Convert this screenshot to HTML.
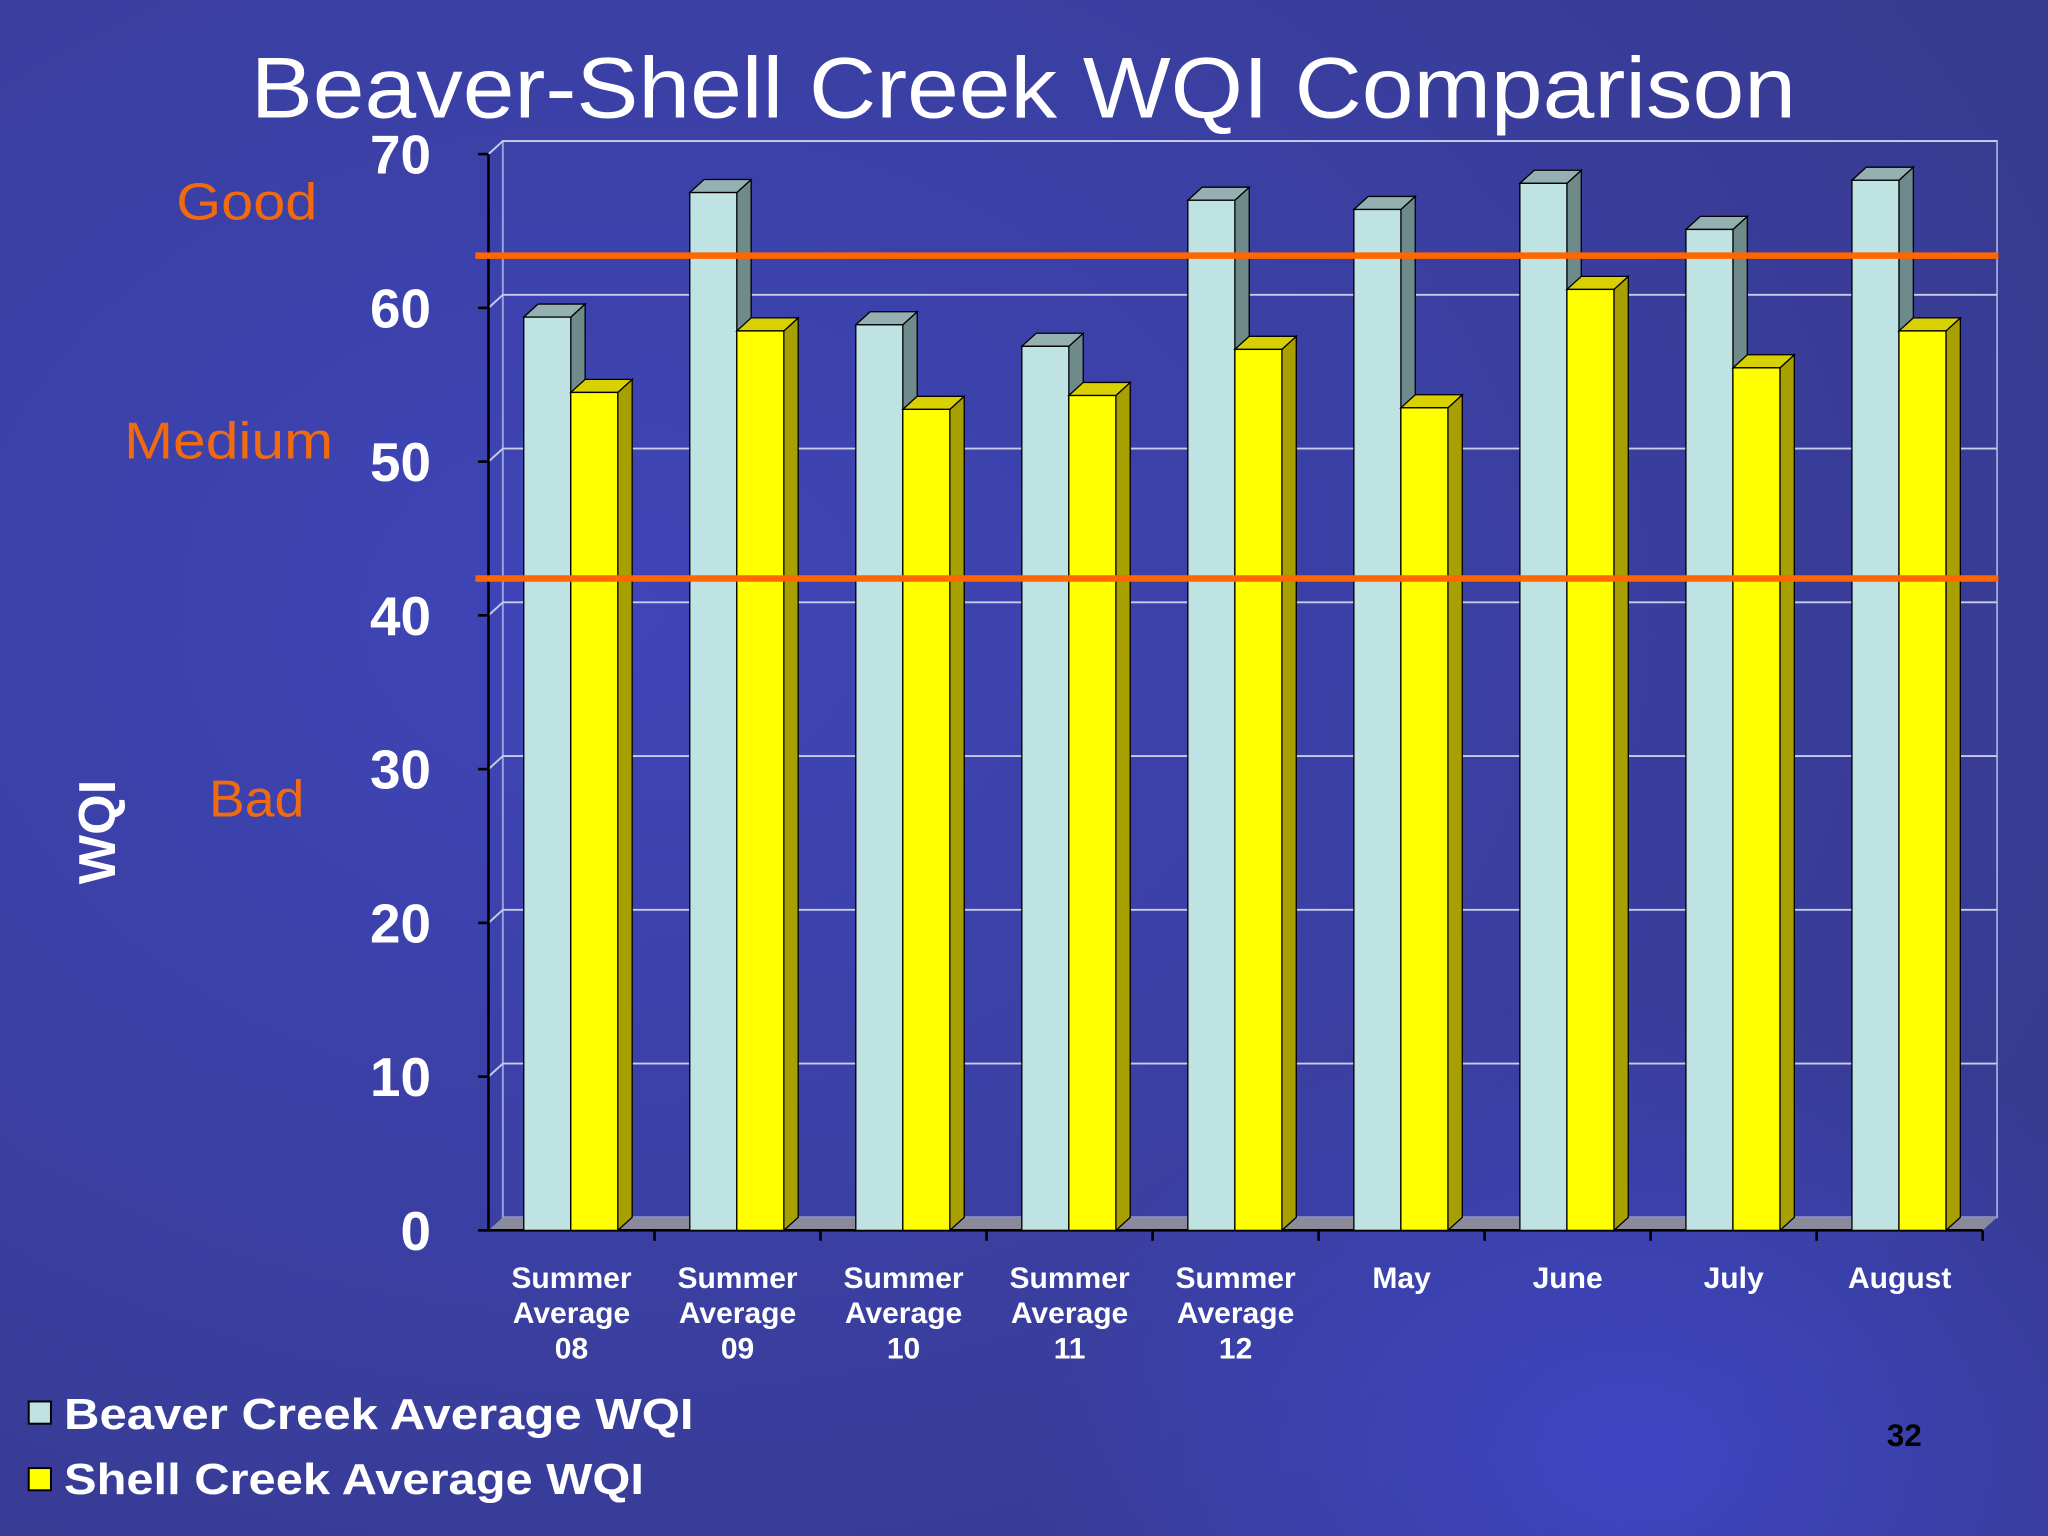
<!DOCTYPE html>
<html><head><meta charset="utf-8"><style>
html,body{margin:0;padding:0;width:2048px;height:1536px;overflow:hidden;background:#3a3c9e}
svg{display:block}
text{font-family:"Liberation Sans","DejaVu Sans",sans-serif}
</style></head><body>
<svg id="c" width="2048" height="1536" viewBox="0 0 1568 1176">
<defs>
<radialGradient id="bg1" cx="0.3" cy="0.4" r="0.8"><stop offset="0" stop-color="#3f45b8"/><stop offset="1" stop-color="#363a8e"/></radialGradient>
<radialGradient id="bg2" cx="0.8" cy="0.95" r="0.3"><stop offset="0" stop-color="#4048d0" stop-opacity="0.8"/><stop offset="1" stop-color="#4048d0" stop-opacity="0"/></radialGradient>
</defs>
<rect width="1568" height="1176" fill="url(#bg1)"/>
<rect width="1568" height="1176" fill="url(#bg2)"/>
<text x="192" y="90" font-size="66" fill="#fff" textLength="1183" lengthAdjust="spacingAndGlyphs">Beaver-Shell Creek WQI Comparison</text>
<g id="plot"></g>
<text x="88" y="637" transform="rotate(-90 88 637)" text-anchor="middle" font-size="40" font-weight="bold" fill="#fff">WQI</text>
<text x="135" y="168" font-size="40" fill="#f26a10" textLength="108" lengthAdjust="spacingAndGlyphs">Good</text>
<text x="95" y="351" font-size="40" fill="#f26a10" textLength="160" lengthAdjust="spacingAndGlyphs">Medium</text>
<text x="160" y="625" font-size="40" fill="#f26a10" textLength="73" lengthAdjust="spacingAndGlyphs">Bad</text>
<g>
<rect x="22" y="1073" width="17" height="17" fill="#bfe3e3" stroke="#000" stroke-width="1.5"/>
<text x="49" y="1094" font-size="33" font-weight="bold" fill="#fff" textLength="482" lengthAdjust="spacingAndGlyphs">Beaver Creek Average WQI</text>
<rect x="22" y="1124" width="17" height="17" fill="#ffff00" stroke="#000" stroke-width="1.5"/>
<text x="49" y="1144" font-size="33" font-weight="bold" fill="#fff" textLength="444" lengthAdjust="spacingAndGlyphs">Shell Creek Average WQI</text>
</g>
<text x="1458" y="1107" text-anchor="middle" font-size="24" font-weight="bold" fill="#000">32</text>
</svg>
<script>
const categories=[["Summer","Average","08"],["Summer","Average","09"],["Summer","Average","10"],["Summer","Average","11"],["Summer","Average","12"],["May"],["June"],["July"],["August"]];
const beaver=[59.4,67.5,58.9,57.5,67.0,66.4,68.1,65.1,68.3];
const shell=[54.5,58.5,53.4,54.3,57.3,53.5,61.2,56.1,58.5];
const yTicks=[0,10,20,30,40,50,60,70];
const thresholds=[63.4,42.4];
const NS="http://www.w3.org/2000/svg";
const g=document.getElementById('plot');
const x0=374,x1=1518,y0=942,yTop=118,dx=11,dy=10;
const y=v=>y0-(v/70)*(y0-yTop);
const bandW=(x1-x0)/categories.length;
function mk(t,a,p){const e=document.createElementNS(NS,t);for(const k in a)e.setAttribute(k,a[k]);(p||g).appendChild(e);return e;}
let wall=mk('rect',{x:x0+dx,y:y(70)-dy,width:x1-x0,height:y0-y(70),fill:'none',stroke:'#9aa0d8','stroke-width':1.5});


let fl=mk('polygon',{points:`${x0},${y0} ${x1},${y0} ${x1+dx},${y0-dy} ${x0+dx},${y0-dy}`,fill:'#8a8a9a'});


yTicks.forEach(t=>{
  if(t>0){let l=mk('polyline',{points:`${x0},${y(t)} ${x0+dx},${y(t)-dy} ${x1+dx},${y(t)-dy}`,fill:'none',stroke:'#c8cce8','stroke-width':1.5});
  
  }
  mk('line',{x1:x0-8,x2:x0,y1:y(t),y2:y(t),stroke:'#000','stroke-width':2});
  let tx=mk('text',{x:330,y:y(t)+15,'text-anchor':'end','font-size':42,'font-weight':'bold',fill:'#fff'});
  tx.textContent=t;
  
  
});
mk('line',{x1:x0,x2:x0,y1:y0,y2:y(70),stroke:'#000','stroke-width':2});
mk('line',{x1:x0,x2:x1,y1:y0,y2:y0,stroke:'#000','stroke-width':2});
function bar(x,v,w,front,side,top,name){
  const yt=y(v);
  const grp=mk('g',{});
  
  
  mk('polygon',{points:`${x+w},${yt} ${x+w+dx},${yt-dy} ${x+w+dx},${y0-dy} ${x+w},${y0}`,fill:side,stroke:'#000','stroke-width':1},grp);
  mk('polygon',{points:`${x},${yt} ${x+dx},${yt-dy} ${x+w+dx},${yt-dy} ${x+w},${yt}`,fill:top,stroke:'#000','stroke-width':1},grp);
  mk('rect',{x:x,y:yt,width:w,height:y0-yt,fill:front,stroke:'#000','stroke-width':1},grp);
}
categories.forEach((c,i)=>{
  const left=x0+bandW*i;
  bar(left+27,beaver[i],36,'#bfe3e3','#6e8a8a','#94b0b0','bar-beaver-'+i);
  bar(left+63,shell[i],36,'#ffff00','#a8a000','#d8d000','bar-shell-'+i);
  mk('line',{x1:left+bandW,x2:left+bandW,y1:y0,y2:y0+8,stroke:'#000','stroke-width':2});
  c.forEach((s,j)=>{
    let t=mk('text',{x:left+bandW/2,y:986+j*27,'text-anchor':'middle','font-size':23,'font-weight':'bold',fill:'#fff'});
    t.textContent=s;
    
    
  });
});
thresholds.forEach((v,i)=>{
  let l=mk('line',{x1:x0-10,x2:1530,y1:y(v),y2:y(v),stroke:'#ff6600','stroke-width':5});
  
  
});
</script>
</body></html>
